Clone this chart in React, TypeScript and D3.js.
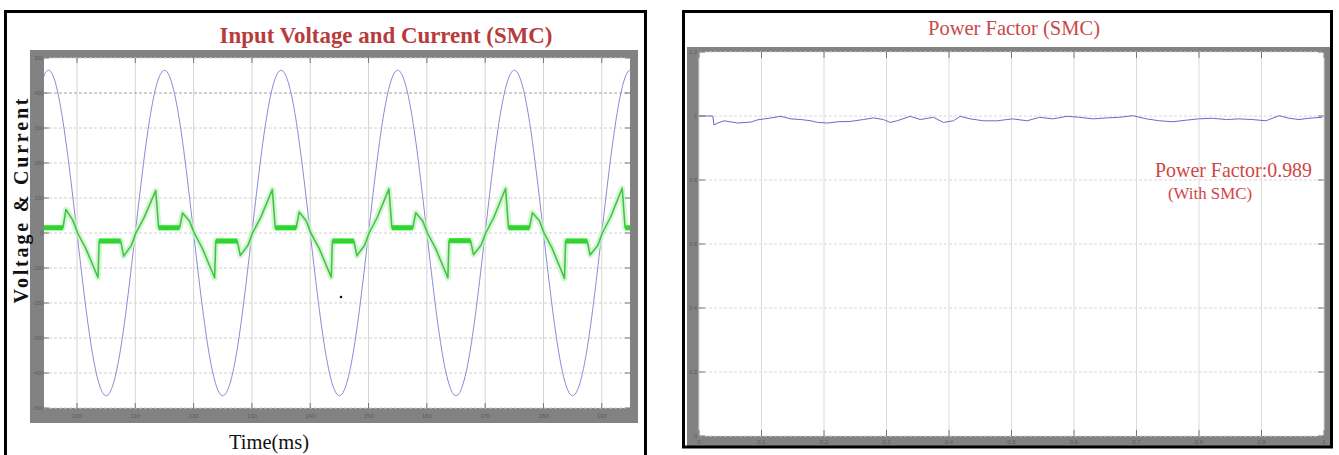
import React from 'react';
import * as d3 from 'd3';

const W = 1339;
const H = 455;
const SERIF = '"Liberation Serif", "Times New Roman", serif';

// ---- left scope: input voltage and current (time in ms) ----
const timeTicks = [100, 110, 120, 130, 140, 150, 160, 170, 180, 190];
const levelTicks = [-500, -400, -300, -200, -100, 0, 100, 200, 300, 400, 500];

// supply voltage read at every eighth of a cycle
const voltage: [number, number][] = [
  [92.5, 329], [95, 465], [97.5, 329], [100, 0], [102.5, -329], [105, -465], [107.5, -329], [110, 0],
  [112.5, 329], [115, 465], [117.5, 329], [120, 0], [122.5, -329], [125, -465], [127.5, -329], [130, 0],
  [132.5, 329], [135, 465], [137.5, 329], [140, 0], [142.5, -329], [145, -465], [147.5, -329], [150, 0],
  [152.5, 329], [155, 465], [157.5, 329], [160, 0], [162.5, -329], [165, -465], [167.5, -329], [170, 0],
  [172.5, 329], [175, 465], [177.5, 329], [180, 0], [182.5, -329], [185, -465], [187.5, -329], [190, 0],
  [192.5, 329], [195, 465], [197.5, 329],
];

// input current (scaled onto the same axis)
const current: [number, number][] = [
  [94.34, 15], [97.6, 15], [98.1, 67], [99.3, 36], [100.1, 0], [101.5, -44], [103.6, -127], [103.8, -23],
  [107.5, -23], [108.0, -66], [109.3, -36], [110.1, 0], [111.5, 44], [113.5, 121],
  [114.0, 15], [117.6, 15], [118.1, 57], [119.3, 34], [120.1, 0], [121.5, -44], [123.6, -128], [123.8, -23],
  [127.5, -23], [128.0, -64], [129.3, -36], [130.1, 0], [131.5, 44], [133.5, 124],
  [134.0, 15], [137.6, 15], [138.1, 60], [139.3, 35], [140.1, 0], [141.5, -43], [143.6, -126], [143.8, -23],
  [147.5, -23], [148.0, -65], [149.3, -36], [150.1, 0], [151.5, 45], [153.5, 126],
  [154.0, 15], [157.6, 15], [158.1, 58], [159.3, 34], [160.1, 0], [161.5, -44], [163.6, -128], [163.8, -22],
  [167.5, -22], [168.0, -62], [169.3, -35], [170.1, 0], [171.5, 45], [173.5, 127],
  [174.0, 15], [177.6, 15], [178.1, 58], [179.3, 35], [180.1, 0], [181.5, -44], [183.6, -130], [183.8, -23],
  [187.5, -23], [188.0, -63], [189.3, -36], [190.1, 0], [191.5, 45], [193.5, 128],
  [194.0, 15], [194.84, 15],
];

// switching ripple bands on the flat parts of the current [start, end, level]
const rippleBands: [number, number, number][] = [
  [94.34, 97.6, 15], [103.8, 107.5, -23], [114.0, 117.6, 15], [123.8, 127.5, -23],
  [134.0, 137.6, 15], [143.8, 147.5, -23], [154.0, 157.6, 15], [163.8, 167.5, -22],
  [174.0, 177.6, 15], [183.8, 187.5, -23], [194.0, 194.84, 15],
];

// ---- right scope: power factor ----
const pfTicksX = [0, 0.1, 0.2, 0.3, 0.4, 0.5, 0.6, 0.7, 0.8, 0.9, 1];
const pfTicksY = [0, 0.2, 0.4, 0.6, 0.8, 1, 1.2];
const pfTime = [
  0, 0.022, 0.024, 0.03, 0.04, 0.062, 0.083, 0.094, 0.115, 0.131, 0.147, 0.163, 0.179, 0.19, 0.206,
  0.222, 0.242, 0.263, 0.279, 0.295, 0.306, 0.317, 0.338, 0.354, 0.375, 0.391, 0.407, 0.418, 0.434,
  0.455, 0.477, 0.493, 0.502, 0.525, 0.545, 0.566, 0.589, 0.609, 0.63, 0.652, 0.673, 0.694, 0.716,
  0.737, 0.758, 0.78, 0.799, 0.821, 0.844, 0.864, 0.885, 0.907, 0.928, 0.944, 0.96, 0.976, 0.997,
];
const pfValue = [
  1.0, 1.0, 0.972, 0.978, 0.985, 0.978, 0.981, 0.988, 0.994, 0.999, 0.991, 0.989, 0.985, 0.98, 0.978,
  0.982, 0.983, 0.989, 0.994, 0.989, 0.98, 0.985, 0.999, 0.989, 0.996, 0.98, 0.985, 0.999, 0.991,
  0.985, 0.985, 0.989, 0.991, 0.985, 0.996, 0.991, 0.999, 0.996, 0.991, 0.994, 0.996, 1.001, 0.991,
  0.985, 0.982, 0.987, 0.991, 0.993, 0.989, 0.991, 0.989, 0.985, 1.001, 0.993, 0.989, 0.993, 0.996,
];

export default function App() {
  // left plot area
  const L = { x0: 44, x1: 630, y0: 58, y1: 408 };
  const xL = d3.scaleLinear().domain([94.34, 194.84]).range([L.x0, L.x1]);
  const yL = d3.scaleLinear().domain([-500, 500]).range([L.y1, L.y0]);
  const vPath = d3.line<[number, number]>().x(d => xL(d[0])).y(d => yL(d[1])).curve(d3.curveNatural)(voltage) || '';
  const iPath = d3.line<[number, number]>().x(d => xL(d[0])).y(d => yL(d[1]))(current) || '';

  // right plot area
  const R = { x0: 699, x1: 1324, y0: 52, y1: 436 };
  const xR = d3.scaleLinear().domain([0, 1]).range([R.x0, R.x1]);
  const yR = d3.scaleLinear().domain([0, 1.2]).range([R.y1, R.y0]);
  const pfPath = d3.line<number>().x((_, i) => xR(pfTime[i])).y(d => yR(d))(pfValue) || '';

  return (
    <div style={{ position: 'absolute', left: 0, top: 0 }}>
      <svg width={W} height={H} style={{ display: 'block', background: '#fff' }}>
        <defs>
          <clipPath id="clipL"><rect x={L.x0} y={L.y0} width={L.x1 - L.x0} height={L.y1 - L.y0} /></clipPath>
          <clipPath id="clipR"><rect x={R.x0} y={R.y0} width={R.x1 - R.x0} height={R.y1 - R.y0} /></clipPath>
        </defs>

        {/* ---------- left panel ---------- */}
        <rect x={30} y={50} width={608} height={373} fill="#828282" />
        <rect x={L.x0} y={L.y0} width={L.x1 - L.x0} height={L.y1 - L.y0} fill="#fff" />
        {timeTicks.map(t => (
          <line key={'lgx' + t} x1={xL(t)} x2={xL(t)} y1={L.y0} y2={L.y1} stroke="#d4d4d4" strokeWidth={1} />
        ))}
        {levelTicks.map(v => (
          <line key={'lgy' + v} x1={L.x0} x2={L.x1} y1={yL(v)} y2={yL(v)}
            stroke={v === 400 ? '#a0a0a0' : '#d0d0d0'} strokeWidth={1} strokeDasharray="3,2" />
        ))}
        <g clipPath="url(#clipL)">
          <path d={vPath} fill="none" stroke="#8a8ad8" strokeWidth={1} />
          <path d={iPath} fill="none" stroke="#c6f3c6" strokeWidth={6} strokeLinejoin="round" opacity={0.75} />
          {rippleBands.map((b, i) => (
            <line key={'rb' + i} x1={xL(b[0])} x2={xL(b[1])} y1={yL(b[2])} y2={yL(b[2])}
              stroke="#22e022" strokeWidth={5} />
          ))}
          <path d={iPath} fill="none" stroke="#44c444" strokeWidth={1.6} strokeLinejoin="round" />
        </g>
        <circle cx={341} cy={297} r={1.3} fill="#111" />
        {timeTicks.map(t => (
          <g key={'ltx' + t}>
            <line x1={xL(t)} x2={xL(t)} y1={L.y0} y2={L.y0 + 5} stroke="#777" />
            <line x1={xL(t)} x2={xL(t)} y1={L.y1} y2={L.y1 - 5} stroke="#777" />
            <text x={xL(t)} y={418} fontSize={6} fill="#5c5c5c" textAnchor="middle" fontFamily="Arial">{t}</text>
          </g>
        ))}
        {levelTicks.map(v => (
          <g key={'lty' + v}>
            <line x1={L.x0} x2={L.x0 + 5} y1={yL(v)} y2={yL(v)} stroke="#777" />
            <line x1={L.x1} x2={L.x1 - 5} y1={yL(v)} y2={yL(v)} stroke="#777" />
            <text x={43} y={yL(v) + 2} fontSize={5} fill="#5c5c5c" textAnchor="end" fontFamily="Arial">{v}</text>
          </g>
        ))}
        <text x={386} y={43} fontSize={23} fontWeight="bold" fill="#b83b3b" textAnchor="middle"
          fontFamily={SERIF} textLength={333} lengthAdjust="spacingAndGlyphs">Input Voltage and Current (SMC)</text>
        <text transform="translate(28,201) rotate(-90)" fontSize={20} fontWeight="bold" fill="#111"
          textAnchor="middle" fontFamily={SERIF} textLength={205} lengthAdjust="spacing">Voltage &amp; Current</text>
        <text x={269} y={449} fontSize={20.5} fill="#111" textAnchor="middle" fontFamily={SERIF}>Time(ms)</text>
        <rect x={5.5} y={11.5} width={640} height={460} fill="none" stroke="#000" strokeWidth={3} />

        {/* ---------- right panel ---------- */}
        <rect x={687} y={47} width={644} height={400} fill="#828282" />
        <rect x={R.x0} y={R.y0} width={R.x1 - R.x0} height={R.y1 - R.y0} fill="#fff" />
        {pfTicksX.map(t => (
          <line key={'rgx' + t} x1={xR(t)} x2={xR(t)} y1={R.y0} y2={R.y1} stroke="#dadada" strokeWidth={1} />
        ))}
        {pfTicksY.map(v => (
          <line key={'rgy' + v} x1={R.x0} x2={R.x1} y1={yR(v)} y2={yR(v)} stroke="#d6d6d6" strokeWidth={1} strokeDasharray="3,2" />
        ))}
        <g clipPath="url(#clipR)">
          <path d={pfPath} fill="none" stroke="#6a6ac8" strokeWidth={1} />
        </g>
        {pfTicksX.map(t => (
          <g key={'rtx' + t}>
            <line x1={xR(t)} x2={xR(t)} y1={R.y0} y2={R.y0 + 6} stroke="#777" />
            <line x1={xR(t)} x2={xR(t)} y1={R.y1} y2={R.y1 - 6} stroke="#777" />
            <text x={xR(t)} y={444} fontSize={6} fill="#5c5c5c" textAnchor="middle" fontFamily="Arial">{t}</text>
          </g>
        ))}
        {pfTicksY.map(v => (
          <g key={'rty' + v}>
            <line x1={R.x0} x2={R.x0 + 6} y1={yR(v)} y2={yR(v)} stroke="#777" />
            <line x1={R.x1} x2={R.x1 - 6} y1={yR(v)} y2={yR(v)} stroke="#777" />
            <text x={697} y={yR(v) + 2} fontSize={5.5} fill="#5c5c5c" textAnchor="end" fontFamily="Arial">{v}</text>
          </g>
        ))}
        <text x={1014} y={35} fontSize={21} fill="#c94848" textAnchor="middle" fontFamily={SERIF}
          textLength={172} lengthAdjust="spacingAndGlyphs">Power Factor (SMC)</text>
        <text x={1155} y={177} fontSize={21} fill="#d04646" fontFamily={SERIF}
          textLength={157} lengthAdjust="spacingAndGlyphs">Power Factor:0.989</text>
        <text x={1168} y={199} fontSize={16} fill="#d04646" fontFamily={SERIF}
          textLength={84} lengthAdjust="spacingAndGlyphs">(With SMC)</text>
        <rect x={683.5} y={11.5} width={648} height={435.5} fill="none" stroke="#000" strokeWidth={3} />
      </svg>
    </div>
  );
}
